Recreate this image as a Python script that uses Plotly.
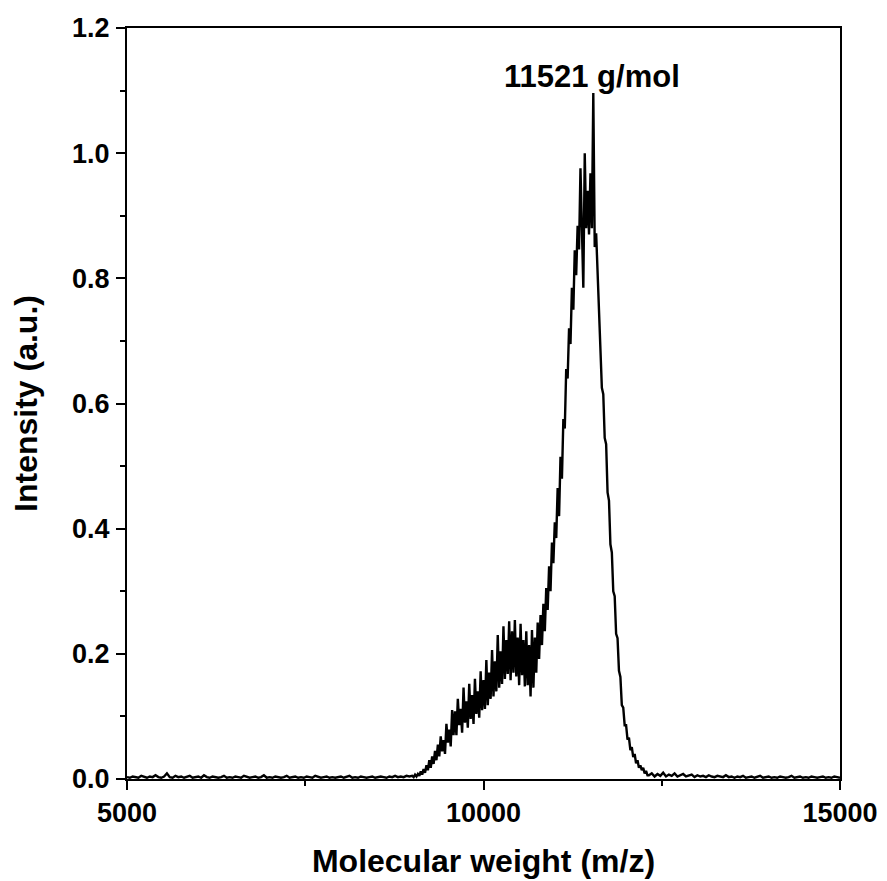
import numpy as np
import plotly.graph_objects as go

# ---- data ----
# low-mass baseline, 5000..8960 step 40
mz_low_start, mz_low_step = 5000, 40
int_low = [0.003,0.002,0.004,0.003,0.002,0.005,0.003,0.002,0.004,0.003,
           0.006,0.003,0.002,0.004,0.009,0.003,0.002,0.005,0.003,0.004,
           0.002,0.003,0.005,0.002,0.003,0.004,0.002,0.006,0.003,0.002,
           0.004,0.003,0.002,0.003,0.005,0.002,0.003,0.002,0.004,0.003,
           0.002,0.005,0.003,0.002,0.003,0.004,0.002,0.003,0.006,0.002,
           0.003,0.002,0.004,0.003,0.002,0.003,0.005,0.002,0.003,0.004,
           0.002,0.003,0.002,0.004,0.003,0.002,0.005,0.003,0.002,0.003,
           0.004,0.002,0.003,0.002,0.003,0.004,0.002,0.003,0.005,0.002,
           0.003,0.002,0.004,0.003,0.002,0.003,0.004,0.002,0.003,0.004,
           0.003,0.002,0.004,0.003,0.005,0.003,0.004,0.003,0.005,0.004]

# signal region, 9000..12300 step 20
mz_mid_start, mz_mid_step = 9000, 20
int_mid = [0.005,0.003,0.007,0.004,0.008,0.005,0.012,0.007,0.016,0.010,
           0.022,0.014,0.030,0.018,0.036,0.024,0.045,0.030,0.055,0.036,
           0.068,0.044,0.062,0.040,0.088,0.058,0.079,0.052,0.110,0.070,
           0.108,0.070,0.128,0.086,0.112,0.074,0.146,0.090,0.124,0.082,
           0.152,0.096,0.134,0.088,0.160,0.104,0.140,0.098,0.172,0.110,
           0.158,0.112,0.190,0.118,0.170,0.128,0.206,0.132,0.188,0.140,
           0.230,0.146,0.204,0.152,0.244,0.160,0.222,0.168,0.252,0.158,
           0.236,0.170,0.254,0.164,0.226,0.150,0.248,0.166,0.222,0.148,
           0.236,0.150,0.214,0.132,0.238,0.146,0.226,0.170,0.250,0.192,
           0.262,0.214,0.280,0.236,0.305,0.270,0.340,0.300,0.378,0.345,
           0.410,0.385,0.465,0.420,0.515,0.480,0.575,0.560,0.655,0.640,
           0.720,0.695,0.785,0.750,0.845,0.805,0.884,0.846,0.976,0.860,
           0.785,1.000,0.880,0.940,0.870,0.968,0.880,1.096,0.850,0.872,
           0.812,0.728,0.695,0.625,0.615,0.545,0.535,0.458,0.445,0.375,
           0.362,0.300,0.292,0.232,0.225,0.173,0.163,0.118,0.114,0.086,
           0.086,0.063,0.066,0.046,0.051,0.035,0.040,0.025,0.030,0.018,
           0.022,0.014,0.018,0.009,0.013,0.006]

# high-mass baseline, 12320..15000 step 40
mz_high_start, mz_high_step = 12320, 40
int_high = [0.006,0.009,0.004,0.008,0.005,0.010,0.004,0.007,0.005,0.009,
            0.004,0.006,0.008,0.004,0.005,0.007,0.003,0.006,0.004,0.005,
            0.003,0.006,0.004,0.003,0.005,0.004,0.003,0.006,0.003,0.004,
            0.002,0.004,0.003,0.005,0.002,0.003,0.004,0.002,0.003,0.005,
            0.002,0.003,0.004,0.002,0.003,0.002,0.004,0.003,0.002,0.003,
            0.005,0.002,0.003,0.004,0.002,0.003,0.002,0.004,0.003,0.002,
            0.003,0.004,0.002,0.003,0.002,0.004,0.003,0.002]

peak_label = "11521 g/mol"
peak_label_x = 11521
peak_label_y = 1.122

x_ticks = [5000, 10000, 15000]
y_ticks = [0.0, 0.2, 0.4, 0.6, 0.8, 1.0, 1.2]

# ---- assemble ----
mz = np.concatenate([
    mz_low_start + mz_low_step * np.arange(len(int_low)),
    mz_mid_start + mz_mid_step * np.arange(len(int_mid)),
    mz_high_start + mz_high_step * np.arange(len(int_high)),
])
inten = np.array(int_low + int_mid + int_high)

FONT = "Liberation Sans, Arial, Helvetica, sans-serif"

fig = go.Figure()
fig.add_trace(go.Scatter(x=mz, y=inten, mode="lines",
                         line=dict(color="black", width=2.4),
                         showlegend=False, hoverinfo="skip"))

fig.add_annotation(x=peak_label_x, y=peak_label_y, text=peak_label,
                   showarrow=False, xref="x", yref="y",
                   font=dict(family=FONT, size=31, color="black", weight="bold"))

axis_common = dict(
    showline=True, linecolor="black", linewidth=2, mirror=True,
    ticks="outside", ticklen=9, tickwidth=2, tickcolor="black",
    showgrid=False, zeroline=False,
    tickfont=dict(family=FONT, size=27, color="black", weight="bold"),
)

fig.update_xaxes(range=[5000, 15000], tickvals=x_ticks,
                 ticktext=[str(v) for v in x_ticks],
                 minor=dict(ticks="outside", ticklen=5, tickwidth=2,
                            tickcolor="black", dtick=2500, tick0=5000),
                 title=dict(text="Molecular weight (m/z)", standoff=22,
                            font=dict(family=FONT, size=32, color="black", weight="bold")),
                 **axis_common)
fig.update_yaxes(range=[0, 1.2], tickvals=y_ticks,
                 ticktext=[f"{v:.1f}" for v in y_ticks],
                 minor=dict(ticks="outside", ticklen=5, tickwidth=2,
                            tickcolor="black", dtick=0.1, tick0=0),
                 ticklabelstandoff=1,
                 title=dict(text="Intensity (a.u.)", standoff=25,
                            font=dict(family=FONT, size=32, color="black", weight="bold")),
                 **axis_common)

fig.update_layout(width=887, height=881,
                  margin=dict(l=127, r=47, t=28, b=102, autoexpand=False),
                  paper_bgcolor="white", plot_bgcolor="white")

fig.write_html("out.html")
